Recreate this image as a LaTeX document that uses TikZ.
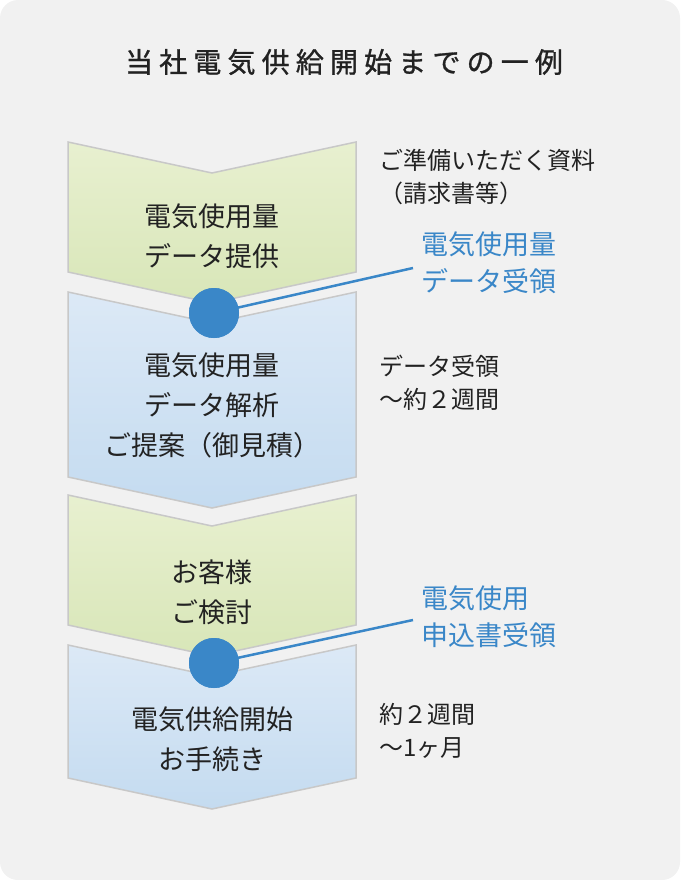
\documentclass[tikz,border=0pt]{standalone}
\usepackage{fontspec}
\setmainfont{Noto Sans CJK JP}
\definecolor{bg}{HTML}{F1F1F1}
\definecolor{gtop}{HTML}{E8F0D0}
\definecolor{gbot}{HTML}{D8E6B8}
\definecolor{btop}{HTML}{DCE9F6}
\definecolor{bbot}{HTML}{C4DBF0}
\definecolor{acc}{HTML}{3A87C8}
\definecolor{txt}{HTML}{222222}
\definecolor{edge}{HTML}{C8C8C8}
\tikzset{x=1pt,y=-1pt,
 gchev/.style={draw=edge,line width=1.5pt,top color=gtop,bottom color=gbot},
 bchev/.style={draw=edge,line width=1.5pt,top color=btop,bottom color=bbot},
 lbl/.style={font=\fontsize{27}{40}\selectfont,text=txt,align=center},
 side/.style={font=\fontsize{24}{33}\selectfont,text=txt,align=left,anchor=north west},
 blu/.style={font=\fontsize{27}{37}\selectfont,text=acc,align=left,anchor=north west},
 dot/.style={circle,fill=acc,minimum size=50pt,inner sep=0pt},
 lead/.style={draw=acc,line width=2.5pt}}
\newcommand{\chev}[3]{% style, top y, side bottom y
 \path[#1] (68,#2) -- (212,#2+31) -- (356,#2) -- (356,#3) -- (212,#3+31) -- (68,#3) -- cycle;}
\begin{document}
\begin{tikzpicture}
\useasboundingbox (0,0) rectangle (680,880);
\fill[bg,rounded corners=18pt] (0,0) rectangle (680,880);
\node[font=\fontsize{28}{30}\selectfont\addfontfeature{LetterSpace=22,FakeBold=1},text=txt] (title) at (344,62) {当社電気供給開始までの一例};
\chev{gchev}{142}{272}
\chev{bchev}{292}{477}
\chev{gchev}{495}{625}
\chev{bchev}{645}{778}
\node[lbl] (s1) at (212,236) {電気使用量\\データ提供};
\node[lbl] (s2) at (212,405) {電気使用量\\データ解析\\ご提案（御見積）};
\node[lbl] (s3) at (212,592) {お客様\\ご検討};
\node[lbl] (s4) at (212,739) {電気供給開始\\お手続き};
\node[side] (r1) at (376,146) {ご準備いただく資料\\（請求書等）};
\node[side] (r2) at (376,352) {データ受領\\～約２週間};
\node[side] (r3) at (376,700) {約２週間\\～1ヶ月};
\node[blu] (b1) at (418,228) {電気使用量\\データ受領};
\node[blu] (b2) at (418,582) {電気使用\\申込書受領};
\coordinate (e1) at (413,268);
\coordinate (e2) at (413,620);
\node[dot] (d1) at (214,313) {};
\node[dot] (d2) at (214,663) {};
\draw[lead] (d1.center) -- (e1);
\draw[lead] (d2.center) -- (e2);
\node[dot] at (214,313) {};
\node[dot] at (214,663) {};
\end{tikzpicture}
\end{document}
